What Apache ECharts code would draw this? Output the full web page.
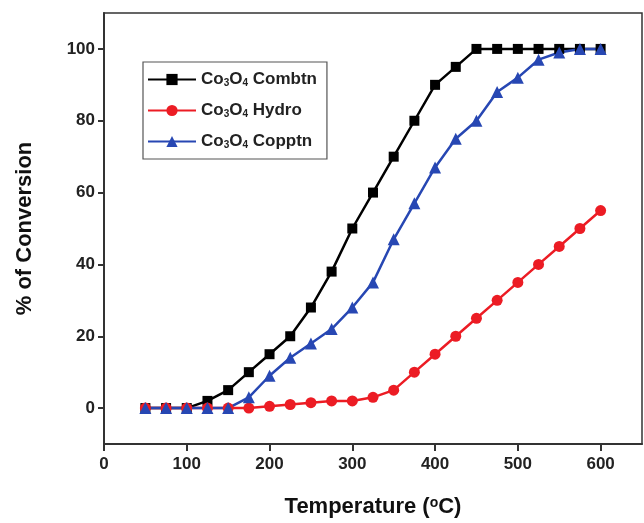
<!DOCTYPE html>
<html>
<head>
<meta charset="utf-8">
<script src="https://cdn.jsdelivr.net/npm/echarts@6/dist/echarts.min.js"></script>
<style>html,body{margin:0;padding:0;background:#fff;}#c{width:644px;height:523px;}</style>
</head>
<body>
<div id="c"></div>
<script>
const temperatures = [50,75,100,125,150,175,200,225,250,275,300,325,350,375,400,425,450,475,500,525,550,575,600];
const combtn = [0,0,0,2,5,10,15,20,28,38,50,60,70,80,90,95,100,100,100,100,100,100,100];
const hydro  = [0,0,0,0,0,0,0.5,1,1.5,2,2,3,5,10,15,20,25,30,35,40,45,50,55];
const copptn = [0,0,0,0,0,3,9,14,18,22,28,35,47,57,67,75,80,88,92,97,99,100,100];
const xTicks = [0,100,200,300,400,500,600];
const yTicks = [0,20,40,60,80,100];
const seriesNames = ['Combtn','Hydro','Copptn'];

const pair = (xs, ys) => xs.map((x, i) => [x, ys[i]]);
const chart = echarts.init(document.getElementById('c'));
const FF = 'Liberation Sans, Arial, sans-serif';
const axisFont = {fontFamily: FF, fontWeight: 'bold', fontSize: 17, color: '#222'};
const rich = {
  a: {fontFamily: FF, fontWeight: 'bold', fontSize: 17, color: '#222'},
  s: {fontFamily: FF, fontWeight: 'bold', fontSize: 10, color: '#222', verticalAlign: 'bottom', padding: [7,0,0,0]}
};
chart.setOption({
  animation: false,
  backgroundColor: '#fff',
  grid: {left: 104, top: 13, right: 2, bottom: 78, show: true, borderColor: '#333', borderWidth: 1.5},
  legend: {
    orient: 'vertical', left: 143, top: 62,
    data: seriesNames,
    itemWidth: 48, itemHeight: 14, itemGap: 14,
    padding: [9, 10, 9, 4],
    borderColor: '#555', borderWidth: 1.2,
    formatter: n => '{a|Co}{s|3}{a|O}{s|4}{a| ' + n + '}',
    textStyle: {rich: rich}
  },
  xAxis: {
    type: 'value', min: 0, max: 650,
    name: 'Temperature ({sup|o}C)', nameLocation: 'middle', nameGap: 52,
    nameTextStyle: {fontFamily: FF, fontWeight: 'bold', fontSize: 22, color: '#111',
      rich: {sup: {fontFamily: FF, fontWeight: 'bold', fontSize: 14, color: '#111', verticalAlign: 'top', padding: [0,0,8,0]}}},
    axisLine: {show: true, onZero: false, lineStyle: {color: '#333', width: 2}},
    axisTick: {show: true, length: 7, lineStyle: {color: '#333', width: 2}, customValues: xTicks},
    axisLabel: Object.assign({margin: 12, customValues: xTicks}, axisFont),
    splitLine: {show: false}
  },
  yAxis: {
    type: 'value', min: -10, max: 110,
    name: '% of Conversion', nameLocation: 'middle', nameGap: 68,
    nameTextStyle: {fontFamily: FF, fontWeight: 'bold', fontSize: 22, color: '#111'},
    axisLine: {show: true, onZero: false, lineStyle: {color: '#333', width: 2}},
    axisTick: {show: true, length: 6, lineStyle: {color: '#333', width: 2}, customValues: yTicks},
    axisLabel: Object.assign({margin: 9, customValues: yTicks}, axisFont),
    splitLine: {show: false}
  },
  series: [
    {name: 'Combtn', type: 'line', data: pair(temperatures, combtn), symbol: 'rect', symbolSize: 10,
     lineStyle: {color: '#000', width: 2.5}, itemStyle: {color: '#000'}},
    {name: 'Hydro', type: 'line', data: pair(temperatures, hydro), symbol: 'circle', symbolSize: 11,
     lineStyle: {color: '#ec1c24', width: 2.5}, itemStyle: {color: '#ec1c24'}},
    {name: 'Copptn', type: 'line', data: pair(temperatures, copptn), symbol: 'triangle', symbolSize: 12,
     lineStyle: {color: '#2747b3', width: 2.5}, itemStyle: {color: '#2747b3'}}
  ]
});
</script>
</body>
</html>
